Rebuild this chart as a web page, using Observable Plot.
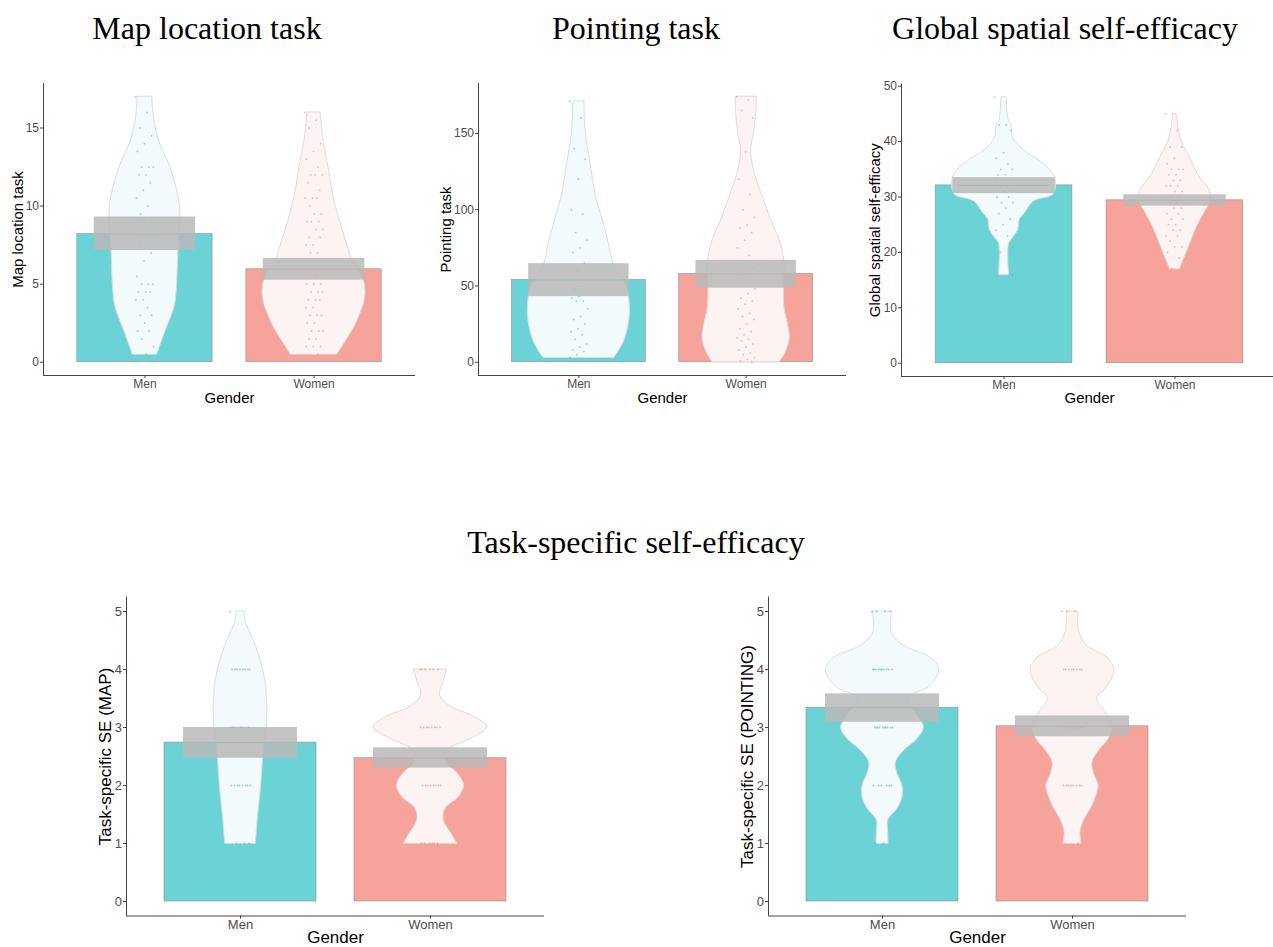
<!DOCTYPE html>
<html>
<head>
<meta charset="utf-8">
<script src="https://cdn.jsdelivr.net/npm/d3@7"></script>
<script src="https://cdn.jsdelivr.net/npm/@observablehq/plot@0.6"></script>
<style>
  html, body { margin: 0; padding: 0; background: #fff; overflow: hidden; }
  #root { position: relative; width: 1273px; height: 947px; overflow: hidden; background: #fff; }
  .title { position: absolute; font-family: "Liberation Serif", "Times New Roman", serif; font-size: 32px; line-height: 32px; color: #000; white-space: nowrap; transform: translateX(-50%); }
  .panel { position: absolute; }
</style>
</head>
<body>
<div id="root">
  <div class="title" style="left:207px;top:12px">Map location task</div>
  <div class="title" style="left:636px;top:12px">Pointing task</div>
  <div class="title" style="left:1065px;top:12px">Global spatial self-efficacy</div>
  <div class="title" style="left:636px;top:526px">Task-specific self-efficacy</div>
  <div class="panel" id="p1" style="left:0px;top:75px"></div>
  <div class="panel" id="p2" style="left:420px;top:75px"></div>
  <div class="panel" id="p3" style="left:845px;top:75px"></div>
  <div class="panel" id="p4" style="left:80px;top:580px"></div>
  <div class="panel" id="p5" style="left:720px;top:580px"></div>
</div>
<script>
// ---------- categories ----------
const genders = ["Men", "Women"];
const genderPos = [1, 2];

// ---------- Map location task ----------
const mapMeans = [8.2, 5.95];
const mapCiLow = [7.15, 5.25];
const mapCiHigh = [9.3, 6.65];
const mapTicks = [0, 5, 10, 15];
const mapMen = [17, 16, 15, 14.5, 14, 13.5, 12.5, 12.5, 12.5, 12, 12, 11.5, 11, 10.5, 10, 9.5, 9, 9, 9, 8.5, 8, 8, 8, 7.5, 7, 6.5, 5.5, 5, 5, 5, 4.5, 4.5, 4.5, 4, 4, 3.5, 3, 3, 2.5, 2, 2, 1.5, 1, 0.5];
const mapWomen = [16, 15.5, 15, 14, 13.5, 13, 12.5, 12, 12, 12, 11.5, 11, 10.5, 10.5, 10.5, 10, 9.5, 9.5, 9, 9, 9, 8.5, 8.5, 8, 8, 7.5, 7.5, 7, 7, 6.5, 6.5, 6, 6, 6, 5.5, 5.5, 5.5, 5, 5, 5, 4.5, 4.5, 4.5, 4, 4, 4, 3.5, 3.5, 3, 3, 3, 2.5, 2.5, 2, 2, 2, 1.5, 1.5, 1, 1, 1, 0.5];
// violin outline: [value, half width]
const mapViolinMen = [[0.5, 0.073], [1, 0.089], [2, 0.122], [3.5, 0.174], [4.5, 0.187], [7, 0.197], [10, 0.207], [12.5, 0.15], [14, 0.089], [15.5, 0.055], [17, 0.043]];
const mapViolinWomen = [[0.5, 0.138], [1.5, 0.197], [2.5, 0.25], [4, 0.30], [5, 0.30], [6, 0.26], [6.5, 0.227], [7.5, 0.197], [10, 0.128], [12.5, 0.085], [14, 0.059], [16, 0.039]];

// ---------- Pointing task ----------
const pointMeans = [53.9, 57.8];
const pointCiLow = [43, 48.5];
const pointCiHigh = [64.6, 66.8];
const pointTicks = [0, 50, 100, 150];
const pointMen = [171, 160, 140, 133, 120, 100, 97, 85, 80, 75, 72, 65, 60, 55, 50, 48, 45, 43, 42, 40, 40, 35, 30, 28, 25, 22, 20, 18, 15, 12, 10, 8, 7, 5, 3];
const pointWomen = [174, 172, 165, 160, 138, 120, 110, 100, 95, 90, 88, 85, 80, 75, 70, 65, 62, 58, 55, 52, 50, 48, 45, 42, 40, 38, 35, 32, 30, 28, 25, 22, 20, 18, 16, 15, 14, 12, 10, 8, 6, 5, 3, 2, 1, 0];
const pointViolinMen = [[3, 0.213], [8, 0.243], [15, 0.275], [32, 0.305], [50, 0.285], [54, 0.26], [65, 0.205], [75, 0.185], [93, 0.143], [108, 0.104], [130, 0.07], [152, 0.04], [171, 0.034]];
const pointViolinWomen = [[0, 0.2], [5, 0.23], [15, 0.26], [25, 0.25], [35, 0.23], [50, 0.225], [65, 0.23], [80, 0.2], [93, 0.15], [108, 0.1], [122, 0.056], [138, 0.03], [152, 0.05], [163, 0.06], [174, 0.064]];

// ---------- Global spatial self-efficacy ----------
const globalMeans = [32.1, 29.4];
const globalCiLow = [30.6, 28.35];
const globalCiHigh = [33.5, 30.4];
const globalTicks = [0, 10, 20, 30, 40, 50];
const globalMen = [48, 43, 43, 42, 38, 37, 36, 35, 35, 34, 34, 33, 33, 33, 32, 32, 31, 31, 30, 30, 29, 29, 28, 27, 26, 25, 24, 23, 20, 16];
const globalWomen = [45, 42, 39, 39, 37, 36, 35, 35, 35, 34, 34, 33, 33, 32, 32, 32, 31, 31, 30, 30, 30, 29, 29, 29, 28, 28, 27, 27, 26, 26, 25, 25, 24, 24, 23, 23, 22, 21, 21, 20, 19, 17];
const globalViolinMen = [[16, 0.029], [21.5, 0.029], [22.5, 0.05], [24, 0.082], [26, 0.093], [27, 0.12], [29.2, 0.175], [30.5, 0.29], [33.5, 0.3], [34.5, 0.28], [36.5, 0.21], [38.3, 0.12], [40.5, 0.055], [43, 0.043], [44, 0.026], [48, 0.016]];
const globalViolinWomen = [[17, 0.029], [18.5, 0.049], [21.5, 0.088], [24.5, 0.127], [26.8, 0.166], [28.6, 0.2], [29.8, 0.214], [31.6, 0.195], [34, 0.136], [37, 0.088], [40, 0.039], [42.5, 0.02], [45, 0.01]];

// ---------- Task-specific SE (MAP) ----------
const seMapMeans = [2.74, 2.47];
const seMapCiLow = [2.47, 2.3];
const seMapCiHigh = [3.0, 2.65];
const seTicks = [0, 1, 2, 3, 4, 5];
const seMapMen = [5, 4, 4, 4, 4, 4, 4, 4, 4, 3, 3, 3, 3, 3, 3, 3, 3, 3, 3, 2, 2, 2, 2, 2, 2, 2, 2, 1, 1, 1];
const seMapWomen = [4, 4, 4, 4, 4, 4, 3, 3, 3, 3, 3, 3, 3, 3, 2, 2, 2, 2, 2, 2, 2, 2, 1, 1, 1, 1, 1, 1];
const seMapViolinMen = [[1, 0.081], [1.5, 0.093], [2, 0.109], [2.5, 0.119], [3, 0.137], [3.5, 0.14], [4, 0.119], [4.5, 0.07], [4.8, 0.03], [5, 0.022]];
const seMapViolinWomen = [[1, 0.14], [1.15, 0.114], [1.4, 0.07], [1.6, 0.079], [1.8, 0.149], [2, 0.177], [2.2, 0.145], [2.4, 0.084], [2.6, 0.088], [2.8, 0.21], [3, 0.3], [3.2, 0.22], [3.35, 0.11], [3.55, 0.05], [3.8, 0.07], [4, 0.088]];

// ---------- Task-specific SE (POINTING) ----------
const sePtMeans = [3.34, 3.02];
const sePtCiLow = [3.09, 2.84];
const sePtCiHigh = [3.58, 3.2];
const sePtMen = [5, 5, 5, 5, 4, 4, 4, 4, 4, 4, 4, 4, 4, 4, 3, 3, 3, 3, 3, 3, 3, 3, 3, 3, 2, 2, 2, 2, 2, 2, 1, 1];
const sePtWomen = [5, 5, 5, 4, 4, 4, 4, 4, 4, 4, 4, 3, 3, 3, 3, 3, 3, 3, 3, 3, 3, 3, 3, 2, 2, 2, 2, 2, 2, 2, 2, 1, 1];
const sePtViolinMen = [[1, 0.032], [1.2, 0.03], [1.4, 0.03], [1.6, 0.079], [1.8, 0.105], [2, 0.105], [2.2, 0.079], [2.4, 0.07], [2.6, 0.114], [2.8, 0.184], [3, 0.218], [3.2, 0.184], [3.5, 0.13], [3.7, 0.245], [4, 0.298], [4.2, 0.254], [4.4, 0.119], [4.6, 0.053], [4.8, 0.044], [5, 0.053]];
const sePtViolinWomen = [[1, 0.047], [1.2, 0.042], [1.4, 0.061], [1.6, 0.096], [1.8, 0.123], [2, 0.137], [2.2, 0.114], [2.4, 0.105], [2.6, 0.14], [2.8, 0.19], [3, 0.21], [3.2, 0.184], [3.5, 0.13], [3.7, 0.184], [4, 0.22], [4.2, 0.184], [4.4, 0.079], [4.6, 0.04], [4.8, 0.03], [5, 0.03]];

// ---------- styles ----------
const barFill = ["#6bd3d6", "#f6a39b"];
const violinFill = ["#f2fafc", "#fdf3f2"];
const pointFill = ["#3aa9ad", "#e57a72"];
const meanStroke = ["#3bbfc3", "#ef8a80"];

function pirate(el, o) {
  const yMax = Math.max(...o.ptsMen, ...o.ptsWomen, ...o.means, ...o.hi);
  const pad = 0.05 * yMax;
  const yDomain = [-pad, yMax + pad];
  const xDomain = [0.4, 2.6];
  const groups = genders.map((g, i) => ({g, i, pos: genderPos[i], mean: o.means[i], lo: o.lo[i], hi: o.hi[i]}));
  const violins = [o.vMen, o.vWomen];
  const pts = [o.ptsMen, o.ptsWomen];
  const jw = 0.055;
  const jit = j => (((j * 0.6180339887) % 1) - 0.5) * 2 * jw;
  const marks = [];
  marks.push(Plot.rect(groups, {x1: d => d.pos - 0.4, x2: d => d.pos + 0.4, y1: 0, y2: "mean", fill: d => barFill[d.i], stroke: "#8f8f8f", strokeWidth: 0.6}));
  groups.forEach((gr, i) => {
    marks.push(Plot.areaX(violins[i], {y: d => d[0], x1: d => gr.pos - d[1], x2: d => gr.pos + d[1], fill: violinFill[i], stroke: "#dddddd", strokeWidth: 1, curve: "catmull-rom"}));
    marks.push(Plot.dot(pts[i], {x: (d, j) => gr.pos + jit(j), y: d => d, r: 0.9, fill: pointFill[i], fillOpacity: 0.5, stroke: "none"}));
  });
  marks.push(Plot.ruleY(groups, {y: "mean", x1: d => d.pos - 0.27, x2: d => d.pos + 0.27, stroke: d => meanStroke[d.i], strokeWidth: 1}));
  marks.push(Plot.rect(groups, {x1: d => d.pos - 0.3, x2: d => d.pos + 0.3, y1: "lo", y2: "hi", fill: "#b8b8b8", fillOpacity: 0.85}));
  marks.push(Plot.ruleX([xDomain[0]], {stroke: "#444", strokeWidth: 1}));
  marks.push(Plot.ruleY([yDomain[0]], {stroke: "#444", strokeWidth: 1}));
  marks.push(Plot.axisY({ticks: o.ticks, tickFormat: d => String(d), tickSize: 3, tickPadding: 1.5, fontSize: o.fsTick, fill: "#4d4d4d", stroke: "#444", label: null}));
  marks.push(Plot.axisY({ticks: [], tickSize: 0, tickFormat: () => "", label: o.label, labelAnchor: "center", labelArrow: "none", labelOffset: o.yLabOff, fontSize: o.fsLab, fill: "#000"}));
  marks.push(Plot.axisX({ticks: genderPos, tickFormat: d => genders[d - 1], tickSize: 3, tickPadding: 1, fontSize: o.fsTick, fill: "#4d4d4d", stroke: "#444", label: null}));
  marks.push(Plot.axisX({ticks: [], tickSize: 0, tickFormat: () => "", label: "Gender", labelAnchor: "center", labelArrow: "none", labelOffset: o.xLabOff, fontSize: o.fsLab, fill: "#000"}));
  const svg = Plot.plot({
    width: o.w, height: o.h,
    marginLeft: o.m[0], marginRight: o.m[1], marginTop: o.m[2], marginBottom: o.m[3],
    x: {domain: xDomain},
    y: {domain: yDomain},
    color: {type: "identity"},
    style: {background: "transparent", overflow: "visible", maxWidth: "none", fontFamily: "'Liberation Sans', Arial, sans-serif"},
    marks
  });
  document.getElementById(el).appendChild(svg);
}

pirate("p1", {label: "Map location task", means: mapMeans, lo: mapCiLow, hi: mapCiHigh, ticks: mapTicks, ptsMen: mapMen, ptsWomen: mapWomen, vMen: mapViolinMen, vWomen: mapViolinWomen, w: 420, h: 340, m: [43, 5, 8, 40], fsTick: 12, fsLab: 15, yLabOff: 31, xLabOff: 27});
pirate("p2", {label: "Pointing task", means: pointMeans, lo: pointCiLow, hi: pointCiHigh, ticks: pointTicks, ptsMen: pointMen, ptsWomen: pointWomen, vMen: pointViolinMen, vWomen: pointViolinWomen, w: 430, h: 340, m: [58, 4, 8, 40], fsTick: 12, fsLab: 15, yLabOff: 38, xLabOff: 27});
pirate("p3", {label: "Global spatial self-efficacy", means: globalMeans, lo: globalCiLow, hi: globalCiHigh, ticks: globalTicks, ptsMen: globalMen, ptsWomen: globalWomen, vMen: globalViolinMen, vWomen: globalViolinWomen, w: 432, h: 340, m: [56, 0, 8.5, 39], fsTick: 12, fsLab: 15, yLabOff: 32, xLabOff: 26});
pirate("p4", {label: "Task-specific SE (MAP)", means: seMapMeans, lo: seMapCiLow, hi: seMapCiHigh, ticks: seTicks, ptsMen: seMapMen, ptsWomen: seMapWomen, vMen: seMapViolinMen, vWomen: seMapViolinWomen, w: 470, h: 367, m: [46, 6, 16.5, 31.5], fsTick: 13, fsLab: 17, yLabOff: 28, xLabOff: 27});
pirate("p5", {label: "Task-specific SE (POINTING)", means: sePtMeans, lo: sePtCiLow, hi: sePtCiHigh, ticks: seTicks, ptsMen: sePtMen, ptsWomen: sePtWomen, vMen: sePtViolinMen, vWomen: sePtViolinWomen, w: 470, h: 367, m: [48, 4, 16.5, 31.5], fsTick: 13, fsLab: 17, yLabOff: 28, xLabOff: 27});
</script>
</body>
</html>
